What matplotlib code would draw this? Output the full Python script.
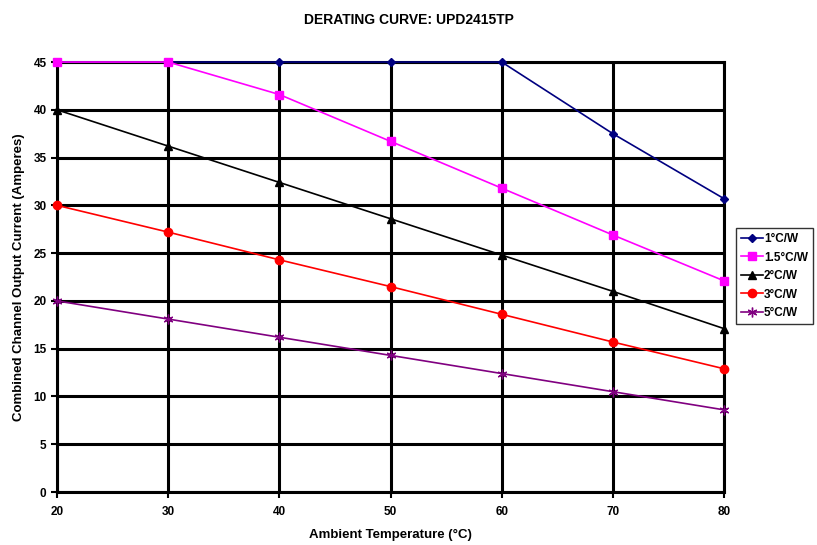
import matplotlib
matplotlib.use("Agg")
import matplotlib.pyplot as plt

plt.rcParams['font.family'] = ['Liberation Sans', 'DejaVu Sans']

temps = [20, 30, 40, 50, 60, 70, 80]
cw_1 = [45, 45, 45, 45, 45, 37.5, 30.7]
cw_15 = [45, 45, 41.6, 36.7, 31.8, 26.9, 22.1]
cw_2 = [40, 36.2, 32.4, 28.6, 24.8, 21.0, 17.1]
cw_3 = [30, 27.2, 24.3, 21.5, 18.6, 15.7, 12.9]
cw_5 = [20, 18.1, 16.2, 14.3, 12.4, 10.5, 8.6]

series = [
    ("1°C/W", cw_1, '#000080', 'D', 4.5),
    ("1.5°C/W", cw_15, '#FF00FF', 's', 6),
    ("2°C/W", cw_2, '#000000', '^', 6),
    ("3°C/W", cw_3, '#FF0000', 'o', 6),
    ("5°C/W", cw_5, '#800080', (6, 2, 0), 7),
]

fig = plt.figure(figsize=(8.17, 5.45), dpi=100)
ax = fig.add_axes([0.0698, 0.0972, 0.8164, 0.789])

for label, vals, col, mk, ms in series:
    ax.plot(temps, vals, color=col, marker=mk, markersize=ms, linewidth=1.2,
            markeredgecolor=col, label=label, zorder=3, clip_on=False)

ax.set_xlim(20, 80)
ax.set_ylim(0, 45)
ax.set_xticks(range(20, 81, 10))
ax.set_yticks(range(0, 46, 5))
ax.grid(True, color='black', linewidth=2.2)
for s in ax.spines.values():
    s.set_linewidth(2.2)
ax.tick_params(direction='out', length=4, width=1.5, labelsize=8.5)
ax.tick_params(axis='x', pad=6)
for t in ax.get_xticklabels() + ax.get_yticklabels():
    t.set_fontweight('bold')

ax.set_xlabel("Ambient Temperature (°C)", fontsize=9.5, fontweight='bold', labelpad=8)
ax.set_ylabel("Combined Channel Output Current (Amperes)", fontsize=9.5, fontweight='bold', labelpad=6)
fig.suptitle("DERATING CURVE: UPD2415TP", fontsize=10, fontweight='bold', y=0.977)

leg = fig.legend(loc='upper left', bbox_to_anchor=(0.901, 0.582), fontsize=8.5,
                 frameon=True, fancybox=False, edgecolor='black', borderpad=0.45,
                 handlelength=1.8, handletextpad=0.1, labelspacing=0.55, borderaxespad=0)
leg.get_frame().set_linewidth(1.0)
for t in leg.get_texts():
    t.set_fontweight('bold')

fig.savefig("out.png", dpi=100)
